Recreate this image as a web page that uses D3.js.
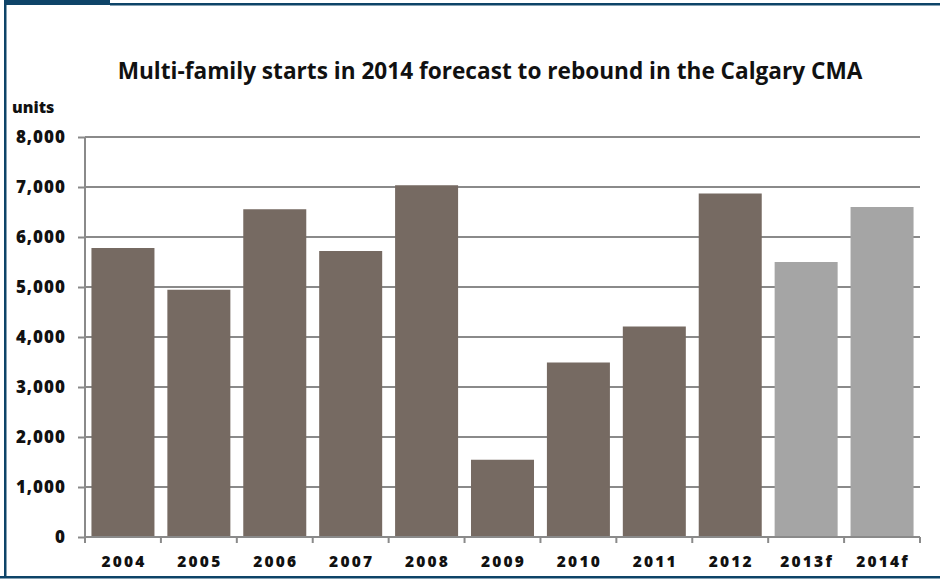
<!DOCTYPE html>
<html>
<head>
<meta charset="utf-8">
<script src="https://cdn.jsdelivr.net/npm/d3@7"></script>
<style>
  html, body { margin: 0; padding: 0; background: #fff; }
  svg { display: block; }
  text { font-family: "Open Sans", "DejaVu Sans", sans-serif; font-weight: 800; fill: #111; }
</style>
</head>
<body>
<svg id="chart" width="940" height="579"></svg>
<script>
// Calgary CMA multi-family housing starts, actual and forecast
const years = ["2004", "2005", "2006", "2007", "2008", "2009", "2010", "2011", "2012", "2013f", "2014f"];
const starts = [5780, 4945, 6555, 5720, 7035, 1545, 3490, 4210, 6870, 5500, 6600];
const forecast = [false, false, false, false, false, false, false, false, false, true, true];
const yTicks = [0, 1000, 2000, 3000, 4000, 5000, 6000, 7000, 8000];
const titleText = "Multi-family starts in 2014 forecast to rebound in the Calgary CMA";
const unitLabel = "units";

const svg = d3.select("#chart");
const W = 940, H = 579;
const margin = { left: 85, right: 20, top: 137, bottom: 42 };
const plotW = W - margin.left - margin.right;
const plotH = H - margin.top - margin.bottom;

// Frame: dark tab at the top left, thin rules along the top, left and bottom
const navy = "#0e4468";
svg.append("rect").attr("x", 4).attr("y", 0).attr("width", 106).attr("height", 5).attr("fill", navy);
svg.append("rect").attr("x", 110).attr("y", 3).attr("width", W - 110).attr("height", 2.5).attr("fill", navy);
svg.append("rect").attr("x", 4).attr("y", 0).attr("width", 2.5).attr("height", 578).attr("fill", navy);
svg.append("rect").attr("x", 0).attr("y", 576).attr("width", W).attr("height", 2.5).attr("fill", navy);

const g = svg.append("g").attr("transform", `translate(${margin.left},${margin.top})`);

const x = d3.scaleBand().domain(years).range([0, plotW]).paddingInner(0.17).paddingOuter(0.085);
const y = d3.scaleLinear().domain([0, 8000]).range([plotH, 0]);

// Horizontal gridlines
g.append("g")
  .selectAll("line")
  .data(yTicks.filter(d => d > 0))
  .join("line")
  .attr("x1", 0).attr("x2", plotW)
  .attr("y1", d => y(d)).attr("y2", d => y(d))
  .attr("stroke", "#8a8a8a").attr("stroke-width", 2);

// Bars
g.append("g")
  .selectAll("rect")
  .data(years)
  .join("rect")
  .attr("x", d => x(d))
  .attr("width", x.bandwidth())
  .attr("y", (d, i) => y(starts[i]))
  .attr("height", (d, i) => plotH - y(starts[i]))
  .attr("fill", (d, i) => forecast[i] ? "#a5a5a5" : "#766a62");

// Y axis
const yAxis = g.append("g")
  .call(d3.axisLeft(y).tickValues(yTicks).tickFormat(d3.format(",")).tickSize(7).tickPadding(12));
yAxis.select(".domain").attr("stroke", "#8a8a8a").attr("stroke-width", 2)
  .attr("d", `M0,${plotH + 6}V0`);
yAxis.selectAll(".tick line").attr("stroke", "#8a8a8a").attr("stroke-width", 2);
yAxis.selectAll(".tick text")
  .style("font-family", "'Open Sans', sans-serif").style("font-weight", 800)
  .style("font-size", "17px").style("letter-spacing", "1px").attr("fill", "#111");

// X axis: ticks fall on category boundaries
const bounds = d3.range(years.length + 1).map(i => i * plotW / years.length);
const xg = g.append("g").attr("transform", `translate(0,${plotH})`);
xg.append("line").attr("x1", 0).attr("x2", plotW).attr("y1", 0).attr("y2", 0)
  .attr("stroke", "#8a8a8a").attr("stroke-width", 2);
xg.selectAll("line.tk")
  .data(bounds)
  .join("line").attr("class", "tk")
  .attr("x1", d => d).attr("x2", d => d).attr("y1", 0).attr("y2", 6)
  .attr("stroke", "#8a8a8a").attr("stroke-width", 2);
xg.selectAll("text")
  .data(years)
  .join("text")
  .attr("x", d => x(d) + x.bandwidth() / 2 + 1)
  .attr("y", 30)
  .attr("text-anchor", "middle")
  .style("font-size", "15.5px")
  .style("letter-spacing", "2.2px")
  .text(d => d);

// Title, sized to span its line
const title = svg.append("text")
  .attr("x", 490).attr("y", 79)
  .attr("text-anchor", "middle")
  .style("font-size", "20px")
  .style("font-weight", 700)
  .attr("fill", "#222")
  .text(titleText);
const tw = title.node().getComputedTextLength();
title.style("font-size", (20 * 745 / tw).toFixed(2) + "px");

svg.append("text")
  .attr("x", 12).attr("y", 113)
  .style("font-size", "16px")
  .text(unitLabel);
</script>
</body>
</html>
